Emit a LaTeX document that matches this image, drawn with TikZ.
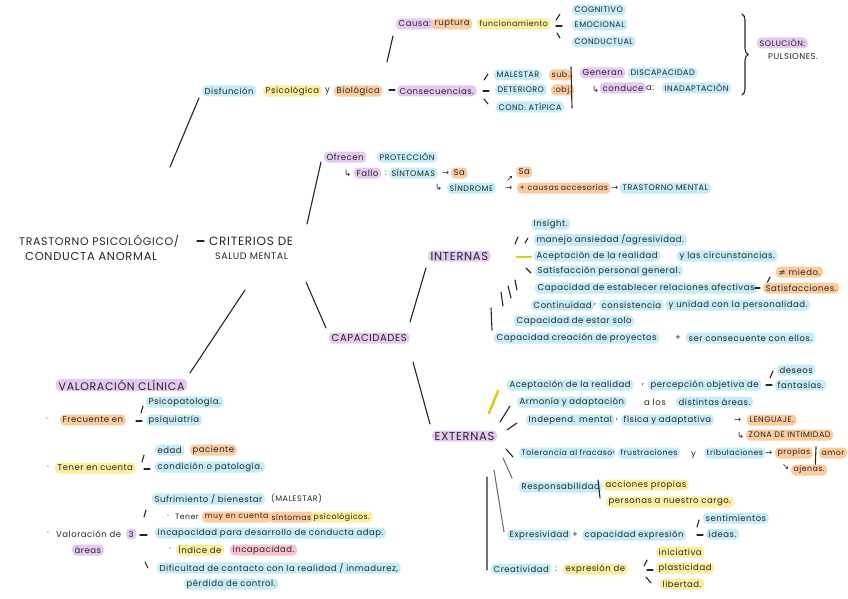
\documentclass[tikz,border=0pt]{standalone}
\usepackage{fontspec}
\setmainfont{Poppins}[LetterSpace=6]
\newfontfamily\sym{DejaVu Sans}
\usetikzlibrary{decorations.pathreplacing}
\definecolor{cb}{HTML}{C6ECF8}
\definecolor{co}{HTML}{FCCB9F}
\definecolor{cy}{HTML}{FBEE9E}
\definecolor{cpu}{HTML}{E6C9F1}
\definecolor{cpk}{HTML}{F8C3CF}
\definecolor{cyl}{HTML}{D8CC1C}
\begin{document}
\begin{tikzpicture}[x=1pt,y=-1pt,
  base/.style={anchor=west, font=\fontsize{8.5}{9}\selectfont, text=black!85},
  tx/.style={base, inner sep=1pt},
  hl/.style={base, rounded corners=4pt, inner xsep=2.5pt, inner ysep=1pt, minimum height=11pt},
  hb/.style={hl, fill=cb},
  ho/.style={hl, fill=co},
  hy/.style={hl, fill=cy},
  hp/.style={hl, fill=cpu},
  hk/.style={hl, fill=cpk},
  cs/.style={font=\fontsize{8}{8.5}\selectfont},
  sm/.style={font=\fontsize{7.8}{8.5}\selectfont},
  cbig/.style={font=\fontsize{11}{12}\selectfont},
  cmid/.style={font=\fontsize{10}{11}\selectfont},
  stk/.style={line width=1.1pt, line cap=round, black!85},
  gstk/.style={line width=1.1pt, line cap=round, black!55},
  ystk/.style={line width=2.6pt, line cap=round, cyl}]
\useasboundingbox (0,0) rectangle (848,599);
\fill[white] (0,0) rectangle (848,599);

% ---------- top branch ----------
\node[hp] (causa) at (396,24) {Causa:};
\node[ho] (ruptura) at (432,24) {ruptura};
\node[hy,sm] (funcion) at (477,24) {funcionamiento};
\coordinate (t1a) at (556,20); \coordinate (t1b) at (560,14);
\coordinate (t2a) at (556,26); \coordinate (t2b) at (562,26);
\coordinate (t3a) at (557,33); \coordinate (t3b) at (560,38);
\draw[stk] (t1a) -- (t1b); \draw[stk] (t2a) -- (t2b); \draw[stk] (t3a) -- (t3b);
\node[hb,cs] (cog) at (572,10) {COGNITIVO};
\node[hb,cs] (emo) at (572,25) {EMOCIONAL};
\node[hb,cs] (condu) at (572,42) {CONDUCTUAL};

\node[hb] (disf) at (202,91) {Disfunción};
\node[hy] (psico) at (263,91) {Psicológica};
\node[tx] (yy) at (324,91) {y};
\node[ho] (bio) at (334,91) {Biológica};
\coordinate (d1a) at (389,90); \coordinate (d1b) at (395,90);
\draw[stk] (d1a) -- (d1b);
\node[hp] (conse) at (397,91) {Consecuencias.};
\coordinate (cu) at (387,62); \coordinate (cv) at (393,36);
\draw[stk] (cu) -- (cv);

\coordinate (k1a) at (484,80); \coordinate (k1b) at (488,74);
\coordinate (k2a) at (483,91); \coordinate (k2b) at (489,91);
\coordinate (k3a) at (484,99); \coordinate (k3b) at (488,104);
\draw[stk] (k1a) -- (k1b); \draw[stk] (k2a) -- (k2b); \draw[stk] (k3a) -- (k3b);
\node[hb,cs] (males) at (494,75) {MALESTAR};
\node[ho,cs] (sub) at (549,75) {sub.};
\node[hb,cs] (deter) at (495,90) {DETERIORO};
\node[ho,cs] (obj) at (551,90) {:obj.};
\node[hb,cs] (atip) at (496,107) {COND. ATÍPICA};
\coordinate (b1a) at (571,67); \coordinate (b1b) at (572,108);
\draw[stk] (b1a) -- (b1b);
\node[hp] (generan) at (580,73) {Generan};
\node[hb,cs] (discap) at (628,73) {DISCAPACIDAD};
\node[tx] (ar1) at (591,89) {\sym ↳};
\node[hp] (conduce) at (600,88) {conduce};
\node[tx] (aa) at (645,88) {a:};
\node[hb,cs] (inad) at (662,88) {INADAPTACIÓN};
\coordinate (br1) at (742,14); \coordinate (br2) at (742,95);
\draw[stk, decorate, decoration={brace, amplitude=6pt}] (br1) -- (br2);
\node[hp,cs] (sol) at (757,43) {SOLUCIÓN:};
\node[tx,font=\fontsize{8.5}{9}\selectfont] (puls) at (767,57) {PULSIONES.};

% ---------- protection ----------
\node[hp] (ofrecen) at (324,157) {Ofrecen};
\node[hb,cs] (prot) at (377,157) {PROTECCIÓN};
\node[tx] (ar2) at (343,173) {\sym ↳};
\node[hp] (fallo) at (354,173) {Fallo};
\node[tx] (cl1) at (384,173) {:};
\node[hb,cs] (sint) at (389,173) {SÍNTOMAS};
\node[tx] (ar3) at (441,173) {\sym →};
\node[ho] (sa1) at (451,173) {Sa};
\node[tx] (ar4) at (434,187) {\sym ↳};
\node[hb,cs] (sind) at (447,188) {SÍNDROME};
\node[tx] (ar5) at (504,188) {\sym →};
\node[tx] (ar6) at (505,179) {\sym ↗};
\node[ho] (sa2) at (516,172) {Sa};
\node[ho,sm] (causas) at (517,188) {+ causas accesorias};
\node[tx] (ar7) at (610,188) {\sym →};
\node[hb,cs] (tm) at (620,188) {TRASTORNO MENTAL};

% ---------- centre ----------
\node[tx,cbig] (tp) at (18,241) {TRASTORNO PSICOLÓGICO/};
\node[tx,font=\fontsize{11.5}{12}\selectfont] (ca) at (24,256) {CONDUCTA ANORMAL};
\coordinate (dc1) at (197,241); \coordinate (dc2) at (204,241);
\draw[stk] (dc1) -- (dc2);
\node[tx,font=\fontsize{12}{13}\selectfont] (crit) at (208,241) {CRITERIOS DE};
\node[tx,font=\fontsize{9.5}{10}\selectfont] (smt) at (214,256) {SALUD MENTAL};
\coordinate (m1a) at (170,167); \coordinate (m1b) at (199,98);
\coordinate (m2a) at (307,224); \coordinate (m2b) at (321,162);
\coordinate (m3a) at (306,282); \coordinate (m3b) at (326,328);
\coordinate (m4a) at (245,290); \coordinate (m4b) at (190,373);
\draw[stk] (m1a) -- (m1b); \draw[stk] (m2a) -- (m2b);
\draw[stk] (m3a) -- (m3b); \draw[stk] (m4a) -- (m4b);

% ---------- capacidades ----------
\node[hp,cmid] (capac) at (329,338) {CAPACIDADES};
\node[hp,font=\fontsize{11.5}{12}\selectfont] (intern) at (428,256) {INTERNAS};
\node[hp,font=\fontsize{11.5}{12}\selectfont] (extern) at (432,436) {EXTERNAS};
\coordinate (n1a) at (410,322); \coordinate (n1b) at (426,268);
\coordinate (n2a) at (413,362); \coordinate (n2b) at (430,424);
\draw[stk] (n1a) -- (n1b); \draw[stk] (n2a) -- (n2b);

% internas strokes
\coordinate (s1a) at (515,244); \coordinate (s1b) at (518,237);
\coordinate (s2a) at (525,243); \coordinate (s2b) at (528,238);
\coordinate (s3a) at (517,257); \coordinate (s3b) at (531,257);
\coordinate (s4a) at (526,268); \coordinate (s4b) at (531,273);
\coordinate (s5a) at (515,280); \coordinate (s5b) at (517,290);
\coordinate (s6a) at (508,286); \coordinate (s6b) at (511,298);
\coordinate (s7a) at (501,292); \coordinate (s7b) at (503,306);
\coordinate (s8a) at (491,308); \coordinate (s8b) at (492,330);
\draw[stk] (s1a) -- (s1b); \draw[stk] (s2a) -- (s2b);
\draw[ystk] (s3a) -- (s3b);
\draw[stk] (s4a) -- (s4b); \draw[stk] (s5a) -- (s5b);
\draw[stk] (s6a) -- (s6b); \draw[stk] (s7a) -- (s7b); \draw[stk] (s8a) -- (s8b);

\node[hb] (i1) at (531,224) {Insight.};
\node[hb] (i2) at (534,240) {manejo ansiedad /agresividad.};
\node[hb] (i3) at (534,256) {Aceptación de la realidad};
\node[hb] (i3b) at (677,256) {y las circunstancias.};
\node[hb] (i4) at (535,271) {Satisfacción personal general.};
\node[hb] (i5) at (535,288) {Capacidad de establecer relaciones afectivas};
\coordinate (q1a) at (755,288); \coordinate (q1b) at (760,288);
\coordinate (q2a) at (767,283); \coordinate (q2b) at (770,277);
\draw[stk] (q1a) -- (q1b); \draw[stk] (q2a) -- (q2b);
\node[ho] (i5b) at (763,288) {Satisfacciones.};
\node[ho] (i5c) at (776,272) {{\sym ≠} miedo.};
\node[hb] (i6) at (531,305) {Continuidad};
\node[tx] (cm1) at (593,305) {,};
\node[hb] (i6b) at (599,305) {consistencia};
\node[hb] (i6c) at (666,305) {y unidad con la personalidad.};
\node[hb] (i7) at (514,321) {Capacidad de estar solo};
\node[hb] (i8) at (494,338) {Capacidad creación de proyectos};
\node[tx] (pl1) at (674,338) {+};
\node[hb] (i8b) at (686,338) {ser consecuente con ellos.};

% externas strokes
\coordinate (x0a) at (489,413); \coordinate (x0b) at (498,391);
\coordinate (x1a) at (500,422); \coordinate (x1b) at (510,406);
\coordinate (x2a) at (507,430); \coordinate (x2b) at (517,423);
\coordinate (x3a) at (506,449); \coordinate (x3b) at (513,457);
\coordinate (x4a) at (503,458); \coordinate (x4b) at (512,478);
\coordinate (x5a) at (494,470); \coordinate (x5b) at (504,532);
\coordinate (x6a) at (487,477); \coordinate (x6b) at (487,570);
\draw[ystk] (x0a) -- (x0b);
\draw[stk] (x1a) -- (x1b); \draw[stk] (x2a) -- (x2b); \draw[stk] (x3a) -- (x3b);
\draw[gstk] (x4a) -- (x4b); \draw[gstk] (x5a) -- (x5b); \draw[gstk] (x6a) -- (x6b);

\node[hb] (e1) at (507,385) {Aceptación de la realidad};
\node[tx] (cm2) at (641,385) {,};
\node[hb] (e1b) at (648,385) {percepción objetiva de};
\coordinate (r1a) at (770,378); \coordinate (r1b) at (773,371);
\coordinate (r2a) at (766,385); \coordinate (r2b) at (772,385);
\draw[stk] (r1a) -- (r1b); \draw[stk] (r2a) -- (r2b);
\node[hb] (deseos) at (777,370) {deseos};
\node[hb] (fant) at (775,385) {fantasías.};
\node[hb] (e2) at (517,402) {Armonía y adaptación};
\node[tx] (alos) at (643,402) {a los};
\node[hb] (e2b) at (676,402) {distintas áreas.};
\node[hb] (e3) at (526,420) {Independ. mental};
\node[tx] (cm3) at (615,420) {,};
\node[hb] (e3b) at (621,420) {física y adaptativa};
\node[tx] (ar8) at (733,420) {\sym →};
\node[ho,cs] (leng) at (747,420) {LENGUAJE.};
\node[tx] (ar9) at (736,435) {\sym ↳};
\node[ho,cs] (zona) at (746,435) {ZONA DE INTIMIDAD};
\node[hb,sm] (e4) at (519,453) {Tolerancia al fracaso};
\node[tx] (cm4) at (612,453) {,};
\node[hb,sm] (e4b) at (618,453) {frustraciones};
\node[tx] (yy2) at (690,455) {y};
\node[hb,sm] (e4c) at (704,453) {tribulaciones};
\node[tx] (ar10) at (764,453) {\sym →};
\node[ho,sm] (prop) at (775,453) {propias};
\coordinate (b2a) at (816,447); \coordinate (b2b) at (815,472);
\draw[stk] (b2a) -- (b2b);
\node[ho,sm] (amor) at (819,453) {amor};
\node[tx] (ar11) at (781,467) {\sym ↘};
\node[ho,sm] (ajen) at (791,470) {ajenas.};
\node[hb] (e5) at (519,487) {Responsabilidad};
\coordinate (b3a) at (598,480); \coordinate (b3b) at (600,498);
\draw[stk] (b3a) -- (b3b);
\node[hy] (acc) at (603,485) {acciones propias};
\node[hy] (pers) at (606,502) {personas a nuestro cargo.};
\node[hb] (e6) at (507,535) {Expresividad};
\node[tx] (pl2) at (571,535) {+};
\node[hb] (e6b) at (582,535) {capacidad expresión};
\coordinate (u1a) at (697,527); \coordinate (u1b) at (699,520);
\coordinate (u2a) at (697,535); \coordinate (u2b) at (703,535);
\draw[stk] (u1a) -- (u1b); \draw[stk] (u2a) -- (u2b);
\node[hb] (sent) at (703,518) {sentimientos};
\node[hb] (ideas) at (706,534) {ideas.};
\node[hb] (e7) at (491,569) {Creatividad};
\node[tx] (cl2) at (554,569) {:};
\node[hy] (expde) at (563,569) {expresión de};
\coordinate (v1a) at (644,566); \coordinate (v1b) at (647,560);
\coordinate (v2a) at (647,570); \coordinate (v2b) at (653,570);
\coordinate (v3a) at (646,577); \coordinate (v3b) at (651,583);
\draw[stk] (v1a) -- (v1b); \draw[stk] (v2a) -- (v2b); \draw[stk] (v3a) -- (v3b);
\node[hy] (inic) at (656,552) {iniciativa};
\node[hy] (plast) at (656,568) {plasticidad};
\node[hy] (lib) at (660,584) {libertad.};

% ---------- valoracion clinica ----------
\node[hp,cbig] (val) at (56,385) {VALORACIÓN CLÍNICA};
\node[tx] (dot1) at (45,420) {·};
\node[ho] (frec) at (60,420) {Frecuente en};
\coordinate (w1a) at (141,413); \coordinate (w1b) at (143,406);
\coordinate (w2a) at (136,421); \coordinate (w2b) at (142,421);
\draw[stk] (w1a) -- (w1b); \draw[stk] (w2a) -- (w2b);
\node[hb] (psicop) at (146,402) {Psicopatología.};
\node[hb] (psiq) at (146,420) {psiquiatría};
\node[tx] (dot2) at (46,468) {·};
\node[hy] (tener) at (55,468) {Tener en cuenta};
\coordinate (w3a) at (142,462); \coordinate (w3b) at (144,455);
\coordinate (w4a) at (144,469); \coordinate (w4b) at (150,469);
\draw[stk] (w3a) -- (w3b); \draw[stk] (w4a) -- (w4b);
\node[hb] (edad) at (155,450) {edad};
\node[ho] (pac) at (190,450) {paciente};
\node[hb] (condic) at (155,467) {condición o patología.};
\node[tx] (dot3) at (46,534) {·};
\node[tx] (valo) at (55,534) {Valoración de};
\node[hp] (tres) at (126,534) {3};
\node[hp] (areas) at (72,550) {áreas};
\coordinate (w5a) at (144,517); \coordinate (w5b) at (146,510);
\coordinate (w6a) at (140,535); \coordinate (w6b) at (147,535);
\coordinate (w7a) at (145,562); \coordinate (w7b) at (148,568);
\draw[stk] (w5a) -- (w5b); \draw[stk] (w6a) -- (w6b); \draw[stk] (w7a) -- (w7b);
\node[hb] (sufr) at (152,499) {Sufrimiento / bienestar};
\node[tx,cs] (mal2) at (270,499) {(MALESTAR)};
\node[tx] (dot4) at (166,517) {·};
\node[tx,sm] (tener2) at (174,517) {Tener};
\node[ho,sm] (muy) at (202,517) {muy en cuenta};
\node[ho,sm] (sint2) at (269,517) {síntomas};
\node[hy,sm] (psl) at (311,517) {psicológicos.};
\node[hb] (incap) at (155,533) {incapacidad para desarrollo de conducta adap.};
\node[tx] (dot5) at (168,550) {·};
\node[hy] (indice) at (176,550) {Índice de};
\node[hk] (incap2) at (230,550) {incapacidad.};
\node[hb] (dific) at (157,568) {Dificultad de contacto con la realidad / inmadurez,};
\node[hb] (perd) at (184,584) {pérdida de control.};
\end{tikzpicture}
\end{document}
